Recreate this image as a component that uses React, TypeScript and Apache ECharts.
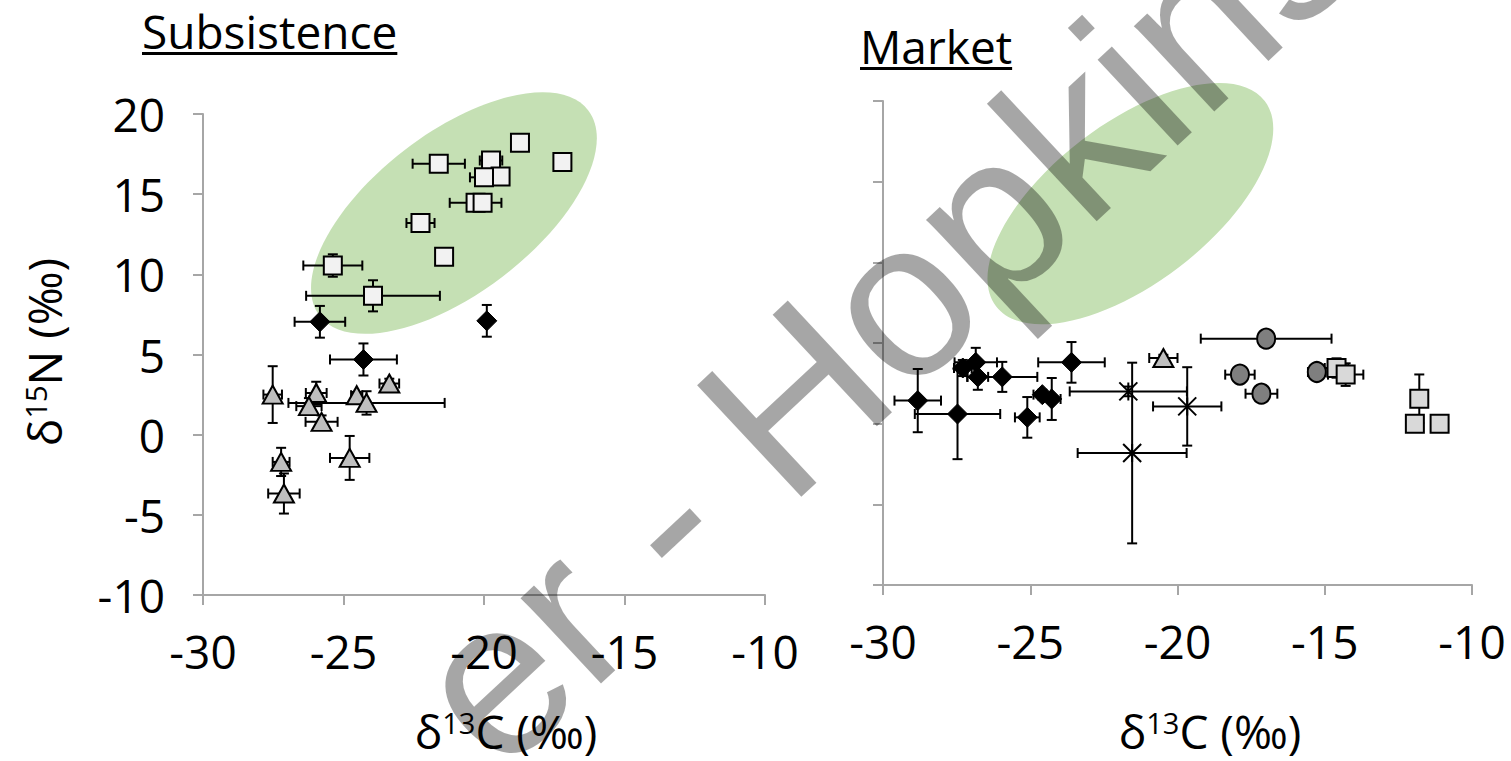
import React, { useEffect, useRef } from "react";
import * as echarts from "echarts";

// Axis ticks
const xTickMin = -30;
const xTickMax = -10;
const xTickStep = 5;
const yTickMin = -10;
const yTickMax = 20;
const yTickStep = 5;

// Each row: [δ13C, δ15N, δ13C error, δ15N error]
const subsistenceSquares = [
  [-18.72, 18.2, 0, 0],
  [-17.21, 17.0, 0, 0.5],
  [-21.61, 16.9, 0.93, 0.3],
  [-19.75, 17.1, 0.4, 0.3],
  [-19.41, 16.1, 0, 0],
  [-20.0, 16.05, 0.5, 0.5],
  [-20.3, 14.46, 0.92, 0.5],
  [-20.05, 14.46, 0, 0],
  [-22.26, 13.2, 0.5, 0],
  [-21.42, 11.1, 0, 0],
  [-25.38, 10.55, 1.05, 0.7],
  [-23.95, 8.66, 2.38, 0.97],
];
const subsistenceDiamonds = [
  [-25.84, 7.04, 0.9, 0.99],
  [-19.9, 7.1, 0, 0.99],
  [-24.29, 4.69, 1.19, 1.0],
];
const subsistenceTriangles = [
  [-27.52, 2.5, 0.33, 1.77],
  [-25.97, 2.6, 0.37, 0.7],
  [-26.23, 1.78, 0.45, 0.5],
  [-24.53, 2.46, 0.2, 0.2],
  [-24.18, 1.98, 2.78, 0.73],
  [-23.37, 3.19, 0.35, 0.3],
  [-25.78, 0.8, 0.57, 0.4],
  [-24.78, -1.45, 0.7, 1.37],
  [-27.22, -1.7, 0.3, 0.88],
  [-27.12, -3.67, 0.56, 1.25],
];

const marketDiamonds = [
  [-28.82, 1.43, 0.79, 1.96],
  [-27.47, 0.6, 1.45, 2.8],
  [-27.29, 3.45, 0.3, 0.5],
  [-26.85, 3.8, 0.72, 0.9],
  [-26.78, 2.9, 0.35, 0.8],
  [-25.95, 2.9, 1.19, 0.93],
  [-23.6, 3.8, 1.13, 1.26],
  [-24.59, 1.8, 0.3, 0.3],
  [-24.27, 1.53, 0.3, 1.3],
  [-25.1, 0.39, 0.42, 1.26],
];
const marketTriangles = [[-20.48, 4.07, 0.48, 0.2]];
const marketAsterisks = [
  [-21.67, 2.0, 1.99, 0.3],
  [-21.54, -1.82, 1.85, 5.6],
  [-19.67, 1.07, 1.16, 2.43],
];
const marketCircles = [
  [-16.99, 5.27, 2.22, 0.3],
  [-17.88, 3.04, 0.5, 0.3],
  [-17.15, 1.86, 0.54, 0.4],
  [-15.27, 3.2, 0.3, 0.5],
];
const marketSquares = [
  [-14.6, 3.45, 0.4, 0.6],
  [-14.29, 3.04, 0.6, 0.7],
  [-11.79, 1.55, 0, 1.5],
  [-11.94, 0, 0, 0],
  [-11.1, 0, 0, 0],
];

// Shaded region (data units) shown in both panels
const ellipseCenterSubsistence = [-21.07, 13.82];
const ellipseCenterMarket = [-21.6, 13.64];

const panelTitles = ["Subsistence", "Market"];
const watermarkText = "er - Hopkins";

const FONT = "'Open Sans', 'Noto Sans', sans-serif";
const AXIS_COLOR = "#a6a6a6";

const errorRender = (params: any, api: any) => {
  const x = api.value(0);
  const y = api.value(1);
  const ex = api.value(2);
  const ey = api.value(3);
  const cap = 5;
  const style = { stroke: "#000", lineWidth: 2 };
  const children: any[] = [];
  const line = (x1: number, y1: number, x2: number, y2: number) =>
    children.push({ type: "line", shape: { x1, y1, x2, y2 }, style });
  if (ex > 0) {
    const a = api.coord([x - ex, y]);
    const b = api.coord([x + ex, y]);
    line(a[0], a[1], b[0], b[1]);
    line(a[0], a[1] - cap, a[0], a[1] + cap);
    line(b[0], b[1] - cap, b[0], b[1] + cap);
  }
  if (ey > 0) {
    const a = api.coord([x, y - ey]);
    const b = api.coord([x, y + ey]);
    line(a[0], a[1], b[0], b[1]);
    line(a[0] - cap, a[1], a[0] + cap, a[1]);
    line(b[0] - cap, b[1], b[0] + cap, b[1]);
  }
  return { type: "group", children };
};

const ASTERISK = "path://M0,0L10,10M10,0L0,10M5,0L5,10";

function makeAxes(idx: number, showYLabels: boolean) {
  const axisLine = { show: true, onZero: false, lineStyle: { color: AXIS_COLOR, width: 2 } };
  const axisTick = { show: true, inside: false, length: 10, lineStyle: { color: AXIS_COLOR, width: 2 } };
  return {
    x: {
      type: "value",
      gridIndex: idx,
      min: xTickMin,
      max: xTickMax,
      interval: xTickStep,
      axisLine,
      axisTick,
      splitLine: { show: false },
      axisLabel: { color: "#000", fontSize: 46, fontFamily: FONT, margin: 33 },
    },
    y: {
      type: "value",
      gridIndex: idx,
      min: yTickMin,
      max: yTickMax,
      interval: yTickStep,
      axisLine,
      axisTick,
      splitLine: { show: false },
      axisLabel: { show: showYLabels, color: "#000", fontSize: 46, fontFamily: FONT, margin: 38 },
    },
  };
}

function pair(name: string, data: number[][], idx: number, symbol: string, size: any, fill: string, border: number) {
  return [
    {
      name: name + "-err",
      type: "custom",
      xAxisIndex: idx,
      yAxisIndex: idx,
      data,
      encode: { x: 0, y: 1 },
      renderItem: errorRender,
      z: 3,
      silent: true,
    },
    {
      name,
      type: "scatter",
      xAxisIndex: idx,
      yAxisIndex: idx,
      data,
      encode: { x: 0, y: 1 },
      symbol,
      symbolSize: size,
      itemStyle: {
        color: fill,
        borderColor: "#000",
        borderWidth: border,
        opacity: 1,
      },
      z: 4,
    },
  ];
}

export default function App() {
  const ref = useRef<HTMLDivElement>(null);
  useEffect(() => {
    if (!ref.current) return;
    const chart = echarts.init(ref.current, undefined, { renderer: "svg" });
    const a0 = makeAxes(0, true);
    const a1 = makeAxes(1, false);
    chart.setOption({
      animation: false,
      backgroundColor: "#fff",
      grid: [
        { left: 203, top: 114, width: 562, height: 481 },
        { left: 883, top: 101, width: 589, height: 484 },
      ],
      xAxis: [a0.x, a1.x],
      yAxis: [a0.y, a1.y],
      series: [
        ...pair("Subsistence squares", subsistenceSquares, 0, "rect", 18, "#f2f2f2", 2),
        ...pair("Subsistence diamonds", subsistenceDiamonds, 0, "diamond", 20, "#000", 1),
        ...pair("Subsistence triangles", subsistenceTriangles, 0, "triangle", [20, 18], "#bfbfbf", 2),
        ...pair("Market diamonds", marketDiamonds, 1, "diamond", 20, "#000", 1),
        ...pair("Market triangles", marketTriangles, 1, "triangle", [20, 18], "#bfbfbf", 2),
        ...pair("Market asterisks", marketAsterisks, 1, ASTERISK, 18, "none", 2),
        ...pair("Market circles", marketCircles, 1, "circle", [18, 20], "#7f7f7f", 2),
        ...pair("Market squares", marketSquares, 1, "rect", 18, "#d9d9d9", 2),
      ],
    });

    const c0 = chart.convertToPixel({ gridIndex: 0 }, ellipseCenterSubsistence as any) as number[];
    const c1 = chart.convertToPixel({ gridIndex: 1 }, ellipseCenterMarket as any) as number[];
    const rot = (37.35 * Math.PI) / 180;
    const ell = (c: number[]) => ({
      type: "ellipse",
      x: c[0],
      y: c[1],
      rotation: rot,
      shape: { cx: 0, cy: 0, rx: 169, ry: 80 },
      style: { fill: "#c5e0b4" },
      z: 1,
      silent: true,
    });

    const measure = (t: string, size: number) => {
      const cv = document.createElement("canvas").getContext("2d")!;
      cv.font = `${size}px 'Open Sans'`;
      return cv.measureText(t).width;
    };
    const titleSize = 46;
    const t0 = { x: 142, y: 31 };
    const t1 = { x: 860, y: 46 };
    const w0 = measure(panelTitles[0], titleSize);
    const w1 = measure(panelTitles[1], titleSize);

    const rich = {
      a: { fontSize: 46, fontFamily: FONT, color: "#000" },
      s: { fontSize: 29, fontFamily: FONT, color: "#000", verticalAlign: "top" },
    };

    chart.setOption({
      graphic: [
        ell(c0),
        ell(c1),
        {
          type: "text",
          x: t0.x,
          y: t0.y,
          style: { text: panelTitles[0], fontSize: titleSize, fontFamily: FONT, fill: "#000", align: "left", verticalAlign: "middle" },
          z: 10,
        },
        { type: "rect", shape: { x: t0.x, y: 52, width: w0, height: 3 }, style: { fill: "#000" }, z: 10 },
        {
          type: "text",
          x: t1.x,
          y: t1.y,
          style: { text: panelTitles[1], fontSize: titleSize, fontFamily: FONT, fill: "#000", align: "left", verticalAlign: "middle" },
          z: 10,
        },
        { type: "rect", shape: { x: t1.x, y: 67, width: w1, height: 3 }, style: { fill: "#000" }, z: 10 },
        {
          type: "text",
          x: 506,
          y: 731,
          style: { text: "{a|δ}{s|13}{a|C (‰)}", rich, align: "center", verticalAlign: "middle" },
          z: 10,
        },
        {
          type: "text",
          x: 1210,
          y: 731,
          style: { text: "{a|δ}{s|13}{a|C (‰)}", rich, align: "center", verticalAlign: "middle" },
          z: 10,
        },
        {
          type: "text",
          x: 44,
          y: 352,
          rotation: Math.PI / 2,
          style: { text: "{a|δ}{s|15}{a|N (‰)}", rich, align: "center", verticalAlign: "middle" },
          z: 10,
        },
        {
          type: "text",
          x: 447,
          y: 722,
          rotation: (43 * Math.PI) / 180,
          silent: true,
          style: {
            text: watermarkText,
            fontSize: 222,
            fontFamily: "'Liberation Sans', Arial, sans-serif",
            fill: "rgba(0,0,0,0.35)",
            align: "left",
            verticalAlign: "middle",
          },
          z: 100,
        },
      ],
    });
    return () => chart.dispose();
  }, []);
  return (
    <div
      ref={ref}
      style={{ position: "fixed", left: 0, top: 0, width: 1511, height: 761, background: "#fff" }}
    />
  );
}
